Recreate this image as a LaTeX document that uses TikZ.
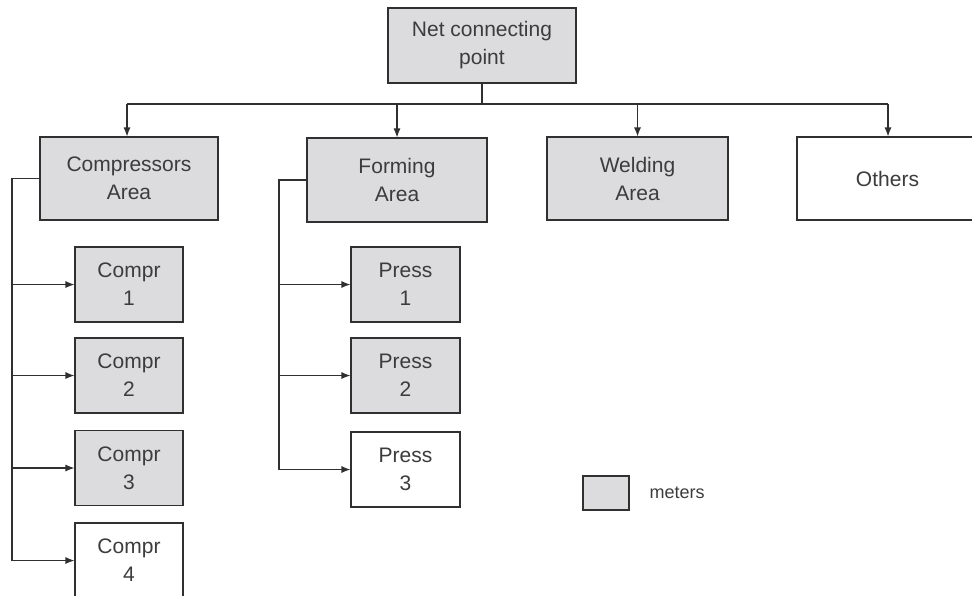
\documentclass[tikz,border=0pt]{standalone}
\usepackage{fontspec}
\setmainfont{Liberation Sans}
\usetikzlibrary{arrows.meta}
\definecolor{boxfill}{HTML}{DCDCDE}
\definecolor{linecol}{HTML}{303030}
\definecolor{txtcol}{HTML}{3C3C3C}
\tikzset{
  box/.style={draw=linecol, line width=1.1pt, fill=boxfill, align=center, text=txtcol,
    font=\fontsize{21}{28}\selectfont, inner sep=0pt},
  wbox/.style={box, fill=white},
  conn/.style={draw=linecol, line width=1.1pt},
  arr/.style={conn, -{Latex[length=9pt,width=7pt]}}
}
\begin{document}
\begin{tikzpicture}[x=1pt,y=-1pt]
\useasboundingbox (0,0) rectangle (972,595);
\clip (0,0) rectangle (972,595);
% top
\node[box, minimum width=188pt, minimum height=75pt] (net) at (482,45.5) {Net connecting\\point};
% areas
\node[box, minimum width=178pt, minimum height=83pt] (comp) at (129,178.5) {Compressors\\Area};
\node[box, minimum width=180pt, minimum height=84pt] (form) at (397,180) {Forming\\Area};
\node[box, minimum width=181pt, minimum height=83pt] (weld) at (637.5,178.5) {Welding\\Area};
\node[wbox, minimum width=181pt, minimum height=83pt] (oth) at (887.5,178.5) {Others};
% compressors
\node[box, minimum width=108pt, minimum height=75pt] (c1) at (129,284.5) {Compr\\1};
\node[box, minimum width=108pt, minimum height=75pt] (c2) at (129,375.5) {Compr\\2};
\node[box, minimum width=108pt, minimum height=75pt] (c3) at (129,468) {Compr\\3};
\node[wbox, minimum width=108pt, minimum height=75pt] (c4) at (129,560.5) {Compr\\4};
% presses
\node[box, minimum width=109pt, minimum height=75pt] (p1) at (405.5,284.5) {Press\\1};
\node[box, minimum width=109pt, minimum height=75pt] (p2) at (405.5,375.5) {Press\\2};
\node[wbox, minimum width=109pt, minimum height=75pt] (p3) at (405.5,469.5) {Press\\3};
% legend
\node[box, minimum width=46pt, minimum height=34pt] (leg) at (606,493) {};
\node[text=txtcol, font=\fontsize{18}{22}\selectfont, anchor=west] (legt) at (646,493) {meters};
% connectors top
\coordinate (busL) at (127,104);
\coordinate (busR) at (888,104);
\draw[conn] (net.south) -- (net.south |- busL);
\draw[conn] (busL) -- (busR);
\draw[arr] (busL) -- (busL |- comp.north);
\draw[arr] (form.north |- busL) -- (form.north);
\draw[arr] (weld.north |- busL) -- (weld.north);
\draw[arr] (busR) -- (busR |- oth.north);
% compressor branch
\coordinate (cl) at (12,0);
\draw[conn] (comp.west) -- (comp.west -| cl) -- (cl |- c4.west);
\foreach \n in {c1,c2,c3,c4} \draw[arr] (cl |- \n.west) -- (\n.west);
% forming branch
\coordinate (fl) at (279,0);
\draw[conn] (form.west) -- (form.west -| fl) -- (fl |- p3.west);
\foreach \n in {p1,p2,p3} \draw[arr] (fl |- \n.west) -- (\n.west);
\end{tikzpicture}
\end{document}
